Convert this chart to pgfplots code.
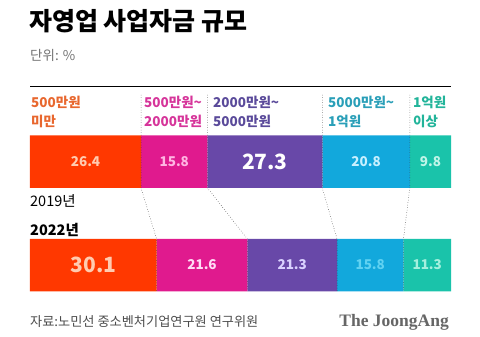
\documentclass[border=0pt]{standalone}
\usepackage{pgfplots}
\pgfplotsset{compat=1.18}
\usepackage{fontspec}
\setmainfont{Noto Sans CJK KR}
\newfontfamily\serifb{Liberation Serif}
\definecolor{c1}{HTML}{FF3800}
\definecolor{c2}{HTML}{E01A8E}
\definecolor{c3}{HTML}{6848A8}
\definecolor{c4}{HTML}{12A8DC}
\definecolor{c5}{HTML}{1AC3AA}
\definecolor{l1}{HTML}{E8672E}
\definecolor{l2}{HTML}{D6359A}
\definecolor{l3}{HTML}{5A4A9A}
\definecolor{l4}{HTML}{2A9FB8}
\definecolor{l5}{HTML}{22B49A}
\definecolor{t1}{HTML}{FFCBB0}
\definecolor{t2}{HTML}{FFB5E2}
\definecolor{t4}{HTML}{C8F0FF}
\definecolor{t5}{HTML}{C0F5E8}
\definecolor{u2}{HTML}{FFDDF5}
\definecolor{u3}{HTML}{DAD2FF}
\definecolor{u4}{HTML}{60D2F2}
\definecolor{u5}{HTML}{A5F0DE}
\begin{document}
\begin{tikzpicture}[x=1pt,y=-1pt]
\path (0,0) rectangle (480,337);
% title
\node[anchor=west,inner sep=0,font=\fontsize{25}{25}\selectfont\bfseries] at (29,21) {자영업 사업자금 규모};
\node[anchor=west,inner sep=0,font=\fontsize{13.5}{13.5}\selectfont,text=black!55] at (30,55) {단위: \%};
\draw[black,line width=1pt] (30,87) -- (451,87);
\begin{axis}[at={(30pt,-291pt)},anchor=south west,scale only axis,width=421pt,height=156pt,
  xmin=0,xmax=100.1,ymin=135,ymax=291,y dir=reverse,hide axis,clip=false,
  xbar stacked,bar width=52.5pt,bar shift=0pt]
\addplot[fill=c1,draw=none] coordinates {(26.4,161.5) (30.1,265)};
\addplot[fill=c2,draw=none] coordinates {(15.8,161.5) (21.6,265)};
\addplot[fill=c3,draw=none] coordinates {(27.3,161.5) (21.3,265)};
\addplot[fill=c4,draw=none] coordinates {(20.8,161.5) (15.8,265)};
\addplot[fill=c5,draw=none] coordinates {(9.8,161.5) (11.3,265)};
% connector anchor points
\coordinate (a1) at (axis cs:26.4,95); \coordinate (b1) at (axis cs:26.4,188); \coordinate (c1) at (axis cs:30.1,239); \coordinate (d1) at (axis cs:30.1,291);
\coordinate (a2) at (axis cs:42.2,95); \coordinate (b2) at (axis cs:42.2,188); \coordinate (c2) at (axis cs:51.7,239); \coordinate (d2) at (axis cs:51.7,291);
\coordinate (a3) at (axis cs:69.5,95); \coordinate (b3) at (axis cs:69.5,188); \coordinate (c3) at (axis cs:73.0,239); \coordinate (d3) at (axis cs:73.0,291);
\coordinate (a4) at (axis cs:90.3,95); \coordinate (b4) at (axis cs:90.3,188); \coordinate (c4) at (axis cs:88.8,239); \coordinate (d4) at (axis cs:88.8,291);
% value label positions (segment centres)
\coordinate (v1) at (axis cs:13.2,162);
\coordinate (v2) at (axis cs:34.3,162);
\coordinate (v3) at (axis cs:55.85,161.5);
\coordinate (v4) at (axis cs:79.9,162);
\coordinate (v5) at (axis cs:95.2,162);
\coordinate (w1) at (axis cs:15.05,264.5);
\coordinate (w2) at (axis cs:40.9,265);
\coordinate (w3) at (axis cs:62.35,265);
\coordinate (w4) at (axis cs:80.9,265);
\coordinate (w5) at (axis cs:94.45,265);
\end{axis}
\foreach \i in {1,2,3,4}{
  \draw[black!80,line width=0.5pt,dotted] (a\i) -- (b\i) -- (c\i) -- (d\i);
}
\tikzset{v/.style={font=\fontsize{13.5}{13.5}\selectfont\bfseries},V/.style={font=\fontsize{21}{21}\selectfont\bfseries}}
\node[v,text=t1] at (v1) {26.4};
\node[v,text=t2] at (v2) {15.8};
\node[V,text=white] at (v3) {27.3};
\node[v,text=t4] at (v4) {20.8};
\node[v,text=t5] at (v5) {9.8};
\node[V,text=t1] at (w1) {30.1};
\node[v,text=u2] at (w2) {21.6};
\node[v,text=u3] at (w3) {21.3};
\node[v,text=u4] at (w4) {15.8};
\node[v,text=u5] at (w5) {11.3};
% category labels
\tikzset{lab/.style={anchor=north west,inner sep=0,align=left,font=\fontsize{13.5}{19}\selectfont\bfseries}}
\node[lab,text=l1] at (31,96) {500만원\\미만};
\node[lab,text=l2] at (144,96) {500만원\textasciitilde\\2000만원};
\node[lab,text=l3] at (213,96) {2000만원\textasciitilde\\5000만원};
\node[lab,text=l4] at (328,96) {5000만원\textasciitilde\\1억원};
\node[lab,text=l5] at (413,96) {1억원\\이상};
% years
\node[anchor=west,inner sep=0,font=\fontsize{14.5}{14.5}\selectfont] at (30,201) {2019년};
\node[anchor=west,inner sep=0,font=\fontsize{14.5}{14.5}\selectfont\bfseries] at (30,230) {2022년};
% footer
\node[anchor=west,inner sep=0,font=\fontsize{13.2}{13.2}\selectfont,text=black!70] at (30,322) {자료:노민선 중소벤처기업연구원 연구위원};
\node[anchor=east,inner sep=0,font=\fontsize{17.5}{17.5}\selectfont\serifb\bfseries,text=black!60] at (449,322) {The JoongAng};
\end{tikzpicture}
\end{document}
